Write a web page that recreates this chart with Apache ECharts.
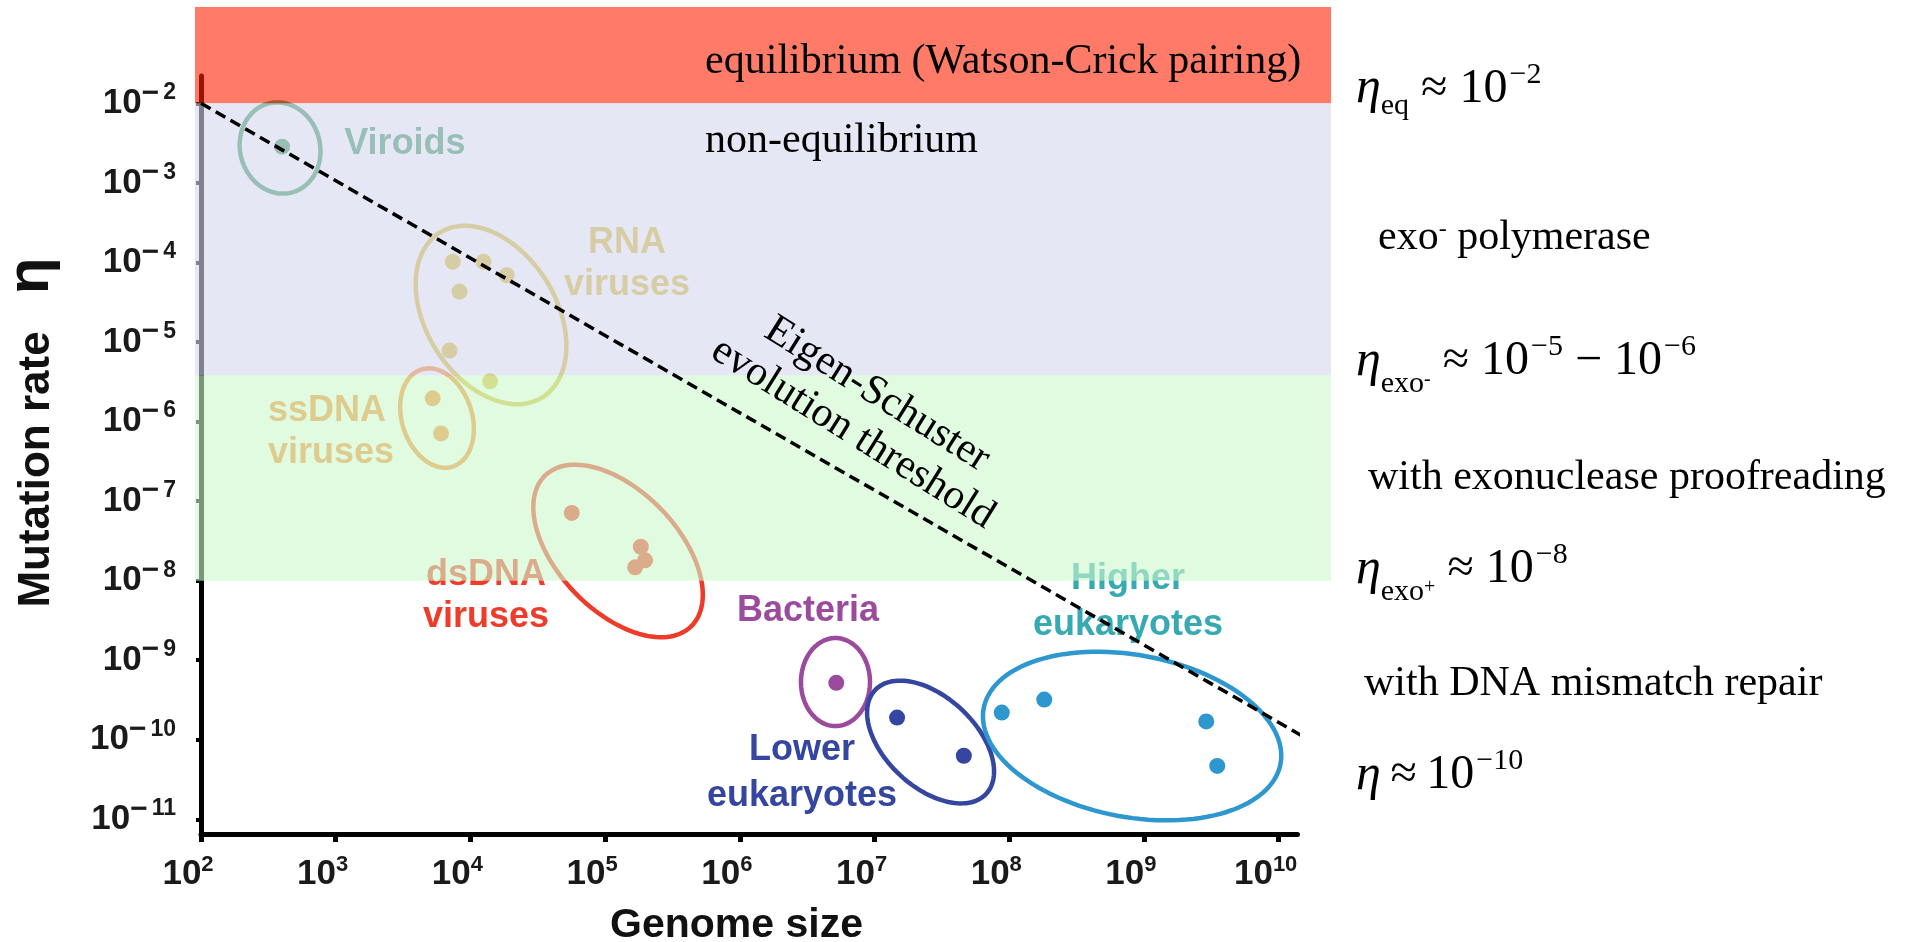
<!DOCTYPE html>
<html>
<head>
<meta charset="utf-8">
<script src="https://cdn.jsdelivr.net/npm/echarts@6/dist/echarts.min.js"></script>
<style>
html,body{margin:0;padding:0;background:#fff;}
#chart{width:1910px;height:942px;}
</style>
</head>
<body>
<div id="chart"></div>
<script>
// ================= DATA =================
const groupNames = ['Viroids', 'RNA viruses', 'ssDNA viruses', 'dsDNA viruses', 'Bacteria', 'Lower eukaryotes', 'Higher eukaryotes'];

const viroidsGenome = [400];
const viroidsRate = [2.85e-3];
const rnaGenome = [7.4e3, 1.25e4, 1.86e4, 8.3e3, 7.0e3, 1.4e4];
const rnaRate = [1.02e-4, 1.02e-4, 6.9e-5, 4.3e-5, 7.8e-6, 3.2e-6];
const ssdnaGenome = [5.25e3, 6.05e3];
const ssdnaRate = [1.96e-6, 7.1e-7];
const dsdnaGenome = [5.65e4, 1.84e5, 1.98e5, 1.67e5];
const dsdnaRate = [7.1e-8, 2.67e-8, 1.8e-8, 1.47e-8];
const bacteriaGenome = [5.2e6];
const bacteriaRate = [5.2e-10];
const lowerGenome = [1.47e7, 4.6e7];
const lowerRate = [1.9e-10, 6.3e-11];
const higherGenome = [8.8e7, 1.82e8, 2.9e9, 3.5e9];
const higherRate = [2.2e-10, 3.2e-10, 1.7e-10, 4.7e-11];

// Eigen-Schuster evolution threshold (end points)
const thresholdGenome = [1e2, 1.87e10];
const thresholdRate = [1e-2, 9.0e-11];

// regime bands (mutation rate limits)
const bandNames = ['equilibrium', 'non-equilibrium', 'exo- polymerase'];
const bandUpper = [0.162, 1e-2, 3.8e-6];
const bandLower = [1e-2, 3.8e-6, 1e-8];
const bandGenomeRange = [90.2, 2.45e10];

// axes
const xTickExp = [2, 3, 4, 5, 6, 7, 8, 9, 10];
const yTickExp = [-11, -10, -9, -8, -7, -6, -5, -4, -3, -2];
const xRange = [1e2, 1.38e10];
const yRange = [6.546e-12, 2.203e-2];

// ================= LAYOUT / STYLE =================
const L = Math.log10;
const sans = "'Liberation Sans', Arial, Helvetica, sans-serif";
const serif = "'Liberation Serif', 'Times New Roman', Times, serif";

const groupColors = ['#3E9C62', '#D9BE37', '#F58A2E', '#EE3B2A', '#9A4B9E', '#3446A0', '#2E97CF'];
const labelColors = ['#3E9C62', '#D9BE37', '#F58A2E', '#EE3B2A', '#9A4B9E', '#3446A0', '#36A9B2'];
const bandColors = ['rgba(255,35,2,0.6)', 'rgba(213,215,238,0.6)', 'rgba(205,248,205,0.6)'];

// ellipse annotations: centre in log10 units, semi axes in px, angle in deg (clockwise)
const ellipseCenterExp = [[2.587, -2.562], [4.153, -4.661], [3.752, -5.956], [5.096, -7.627], [6.710, -9.274], [7.416, -10.028], [8.912, -9.953]];
const ellipseShape = [
  {a: 46, b: 40, ang: 75},
  {a: 97, b: 65, ang: 58},
  {a: 51, b: 35, ang: 72},
  {a: 105, b: 60, ang: 46},
  {a: 44, b: 34.5, ang: 90},
  {a: 76, b: 45, ang: 43},
  {a: 151, b: 81, ang: 10.6}
];

// group labels
const labelText = ['Viroids', 'RNA\nviruses', 'ssDNA\nviruses', 'dsDNA\nviruses', 'Bacteria', 'Lower\neukaryotes', 'Higher\neukaryotes'];
const labelPosExp = [[3.514, -2.518], [5.163, -4.020], [2.497, -6.131], [4.116, -8.193], [6.506, -8.388], [6.462, -10.424], [8.882, -8.268]];
const labelAlign = ['center', 'center', 'left', 'center', 'center', 'center', 'center'];
const labelLineHeight = [42, 42, 42, 42, 42, 46, 46];

// regime texts inside the plot
const regimeText = ['equilibrium (Watson-Crick pairing)', 'non-equilibrium', 'Eigen-Schuster\nevolution threshold'];
const regimePosExp = [[5.742, -1.481], [5.742, -2.474], [6.929, -5.905]];
const regimeAlign = ['left', 'left', 'center'];
const regimeRotate = [0, 0, -32];

// ================= BUILD =================
const groupData = [
  [viroidsGenome, viroidsRate], [rnaGenome, rnaRate], [ssdnaGenome, ssdnaRate], [dsdnaGenome, dsdnaRate],
  [bacteriaGenome, bacteriaRate], [lowerGenome, lowerRate], [higherGenome, higherRate]
];

const scatterSeries = groupData.map((g, i) => ({
  type: 'scatter',
  name: groupNames[i],
  z: 2,
  silent: true,
  symbol: 'circle',
  symbolSize: 16,
  itemStyle: {color: groupColors[i], opacity: 1},
  data: g[0].map((s, j) => [L(s), L(g[1][j])])
}));

const ellipseSeries = {
  type: 'custom',
  name: 'ellipses',
  z: 2,
  silent: true,
  data: ellipseCenterExp.map((c, i) => [c[0], c[1], i]),
  renderItem: function (params, api) {
    const i = api.value(2);
    const c = api.coord([api.value(0), api.value(1)]);
    const e = ellipseShape[i];
    const th = e.ang * Math.PI / 180;
    const pts = [];
    for (let k = 0; k < 120; k++) {
      const t = 2 * Math.PI * k / 120;
      pts.push([
        c[0] + e.a * Math.cos(t) * Math.cos(th) - e.b * Math.sin(t) * Math.sin(th),
        c[1] + e.a * Math.cos(t) * Math.sin(th) + e.b * Math.sin(t) * Math.cos(th)
      ]);
    }
    return {type: 'polygon', shape: {points: pts}, style: {fill: 'none', stroke: groupColors[i], lineWidth: 4.5}};
  }
};

const labelSeries = {
  type: 'custom',
  name: 'groupLabels',
  z: 3,
  silent: true,
  data: labelPosExp.map((p, i) => [p[0], p[1], i]),
  renderItem: function (params, api) {
    const i = api.value(2);
    const c = api.coord([api.value(0), api.value(1)]);
    return {
      type: 'text', x: c[0], y: c[1],
      style: {
        text: labelText[i], fill: labelColors[i], fontFamily: sans, fontWeight: 'bold', fontSize: 36,
        align: labelAlign[i], verticalAlign: 'middle', lineHeight: labelLineHeight[i]
      }
    };
  }
};

const bandSeries = {
  type: 'custom',
  name: 'bands',
  z: 5,
  silent: true,
  data: bandUpper.map((u, i) => [L(bandGenomeRange[0]), L(bandGenomeRange[1]), L(bandLower[i]), L(u), i]),
  renderItem: function (params, api) {
    const i = api.value(4);
    const p0 = api.coord([api.value(0), api.value(3)]);
    const p1 = api.coord([api.value(1), api.value(2)]);
    return {type: 'rect', shape: {x: p0[0], y: p0[1], width: p1[0] - p0[0], height: p1[1] - p0[1]}, style: {fill: bandColors[i]}};
  }
};

const thresholdSeries = {
  type: 'line',
  name: 'Eigen-Schuster threshold',
  z: 10,
  silent: true,
  clip: false,
  symbol: 'none',
  lineStyle: {color: '#000', width: 3.5, type: [11, 6]},
  data: thresholdGenome.map((g, i) => [L(g), L(thresholdRate[i])])
};

const regimeSeries = {
  type: 'custom',
  name: 'regimeText',
  z: 10,
  silent: true,
  data: regimePosExp.map((p, i) => [p[0], p[1], i]),
  renderItem: function (params, api) {
    const i = api.value(2);
    const c = api.coord([api.value(0), api.value(1)]);
    return {
      type: 'text', x: c[0], y: c[1], rotation: regimeRotate[i] * Math.PI / 180,
      style: {
        text: regimeText[i], fill: '#000', fontFamily: serif, fontSize: 42,
        align: regimeAlign[i], verticalAlign: 'middle', lineHeight: 46
      }
    };
  }
};

const formulaRich = {
  eta: {fontFamily: serif, fontStyle: 'italic', fontSize: 50, lineHeight: 76, fill: '#000'},
  b: {fontFamily: serif, fontSize: 48, lineHeight: 76, fill: '#000'},
  sup: {fontFamily: serif, fontSize: 30, verticalAlign: 'top', padding: [9, 0, 0, 2], fill: '#000'},
  sub: {fontFamily: serif, fontSize: 30, verticalAlign: 'bottom', padding: [0, 0, 6, 0], fill: '#000'},
  sub2: {fontFamily: serif, fontSize: 30, verticalAlign: 'bottom', padding: [0, 0, 0, 0], fill: '#000'},
  ss: {fontFamily: serif, fontSize: 20, verticalAlign: 'bottom', padding: [0, 0, 10, 0], fill: '#000'}
};

function formula(x, y, text) {
  return {type: 'text', x: x, y: y, silent: true, style: {text: text, rich: formulaRich, align: 'left', verticalAlign: 'middle', fill: '#000'}};
}
function plainSerif(x, y, text) {
  return {type: 'text', x: x, y: y, silent: true, style: {text: text, fontFamily: serif, fontSize: 42, fill: '#000', align: 'left', verticalAlign: 'middle'}};
}

const option = {
  animation: false,
  backgroundColor: '#fff',
  grid: {left: 201, top: 76, width: 1096.5, height: 758, containLabel: false, outerBoundsMode: 'none'},
  xAxis: {
    type: 'value',
    min: L(xRange[0]),
    max: L(xRange[1]),
    splitLine: {show: false},
    axisLine: {show: true, onZero: false, lineStyle: {color: '#000', width: 5}},
    axisTick: {show: true, length: 8, lineStyle: {color: '#000', width: 5}, customValues: xTickExp},
    axisLabel: {
      customValues: xTickExp,
      margin: 20,
      color: '#1a1a1a',
      formatter: v => '{b|10}{s|' + v + '}',
      rich: {
        b: {fontFamily: sans, fontWeight: 'bold', fontSize: 35, lineHeight: 40, color: '#1a1a1a'},
        s: {fontFamily: sans, fontWeight: 'bold', fontSize: 22, verticalAlign: 'top', padding: [0, 26, 0, 0], color: '#1a1a1a'}
      }
    }
  },
  yAxis: {
    type: 'value',
    min: L(yRange[0]),
    max: L(yRange[1]),
    splitLine: {show: false},
    axisLine: {show: true, onZero: false, lineStyle: {color: '#000', width: 5}},
    axisTick: {show: true, length: 5, lineStyle: {color: '#000', width: 4}, customValues: yTickExp},
    axisLabel: {
      customValues: yTickExp,
      margin: 25,
      color: '#1a1a1a',
      formatter: v => '{b|10}{m|\u2212}{s|' + (-v) + '}',
      rich: {
        b: {fontFamily: sans, fontWeight: 'bold', fontSize: 35, lineHeight: 50, color: '#1a1a1a'},
        m: {fontFamily: sans, fontWeight: 'bold', fontSize: 30, verticalAlign: 'top', padding: [0, 4, 0, 0], color: '#1a1a1a'},
        s: {fontFamily: sans, fontWeight: 'bold', fontSize: 23, verticalAlign: 'top', padding: [3, 0, 0, 0], color: '#1a1a1a'}
      }
    }
  },
  series: [ellipseSeries].concat(scatterSeries, [labelSeries, bandSeries, thresholdSeries, regimeSeries]),
  graphic: [
    {type: 'text', x: 36.6, y: 469.5, rotation: Math.PI / 2, silent: true,
      style: {text: 'Mutation rate', fontFamily: sans, fontWeight: 'bold', fontSize: 44, fill: '#111', align: 'center', verticalAlign: 'middle'}},
    {type: 'text', x: 31, y: 276, rotation: Math.PI / 2, silent: true,
      style: {text: '\u03B7', fontFamily: sans, fontWeight: 'bold', fontSize: 60, fill: '#111', align: 'center', verticalAlign: 'middle'}},
    {type: 'text', x: 736.5, y: 926, silent: true,
      style: {text: 'Genome size', fontFamily: sans, fontWeight: 'bold', fontSize: 41, fill: '#111', align: 'center', verticalAlign: 'middle'}},
    formula(1356, 89, '{eta|\u03B7}{sub|eq}{b| \u2248 10}{sup|\u22122}'),
    {type: 'text', x: 1378, y: 238, silent: true, style: {
      text: '{t|exo}{m|-}{t| polymerase}', align: 'left', verticalAlign: 'middle', fill: '#000',
      rich: {t: {fontFamily: serif, fontSize: 42, lineHeight: 50, fill: '#000'}, m: {fontFamily: serif, fontSize: 24, verticalAlign: 'top', padding: [5, 0, 0, 0], fill: '#000'}}
    }},
    formula(1356, 361.5, '{eta|\u03B7}{sub2|exo}{ss|-}{b| \u2248 10}{sup|\u22125}{b| \u2212 10}{sup|\u22126}'),
    plainSerif(1368, 478, 'with exonuclease proofreading'),
    formula(1356, 569.5, '{eta|\u03B7}{sub2|exo}{ss|+}{b| \u2248 10}{sup|\u22128}'),
    plainSerif(1364, 684, 'with DNA mismatch repair'),
    formula(1356, 775.5, '{eta|\u03B7}{b|\u2009\u2248\u200910}{sup|\u221210}')
  ]
};

const chart = echarts.init(document.getElementById('chart'), null, {renderer: 'canvas'});
chart.setOption(option);
</script>
</body>
</html>
